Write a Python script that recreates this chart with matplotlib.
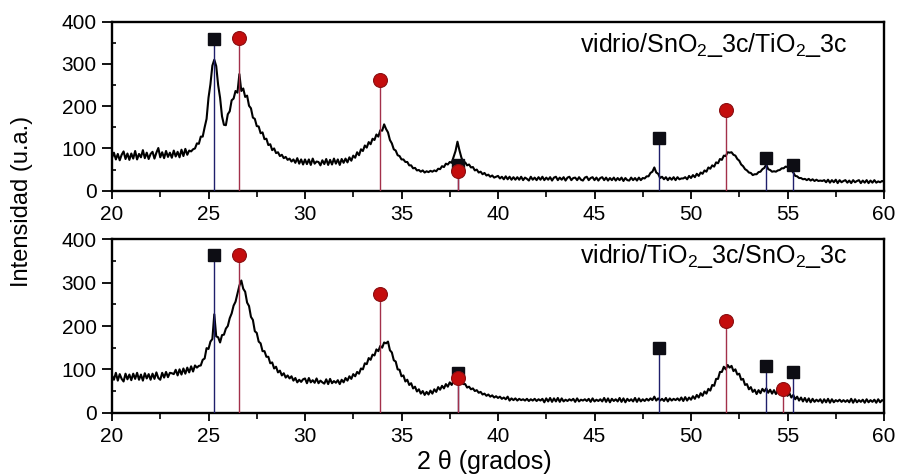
import numpy as np
import matplotlib
matplotlib.use("Agg")
import matplotlib.pyplot as plt
from matplotlib.ticker import MultipleLocator

plt.rcParams['font.family'] = ['Liberation Sans', 'DejaVu Sans']
plt.rcParams['mathtext.fontset'] = 'custom'
plt.rcParams['mathtext.rm'] = 'Liberation Sans'
plt.rcParams['mathtext.it'] = 'Liberation Sans:italic'

# 2-theta scan grid (step 0.1 deg)
two_theta = np.round(np.arange(20.0, 60.05, 0.1), 1)

# vidrio/SnO2_3c/TiO2_3c
intensity_top = [
    78, 90, 74, 87, 72, 85, 93, 75, 88, 73,
    88, 76, 94, 74, 87, 79, 96, 77, 90, 75,
    87, 92, 76, 90, 101, 79, 91, 77, 94, 80,
    90, 78, 95, 81, 92, 79, 97, 82, 99, 85,
    95, 93, 98, 100, 112, 111, 128, 128, 150, 170,
    220, 252, 296, 310, 295, 250, 220, 176, 156, 155,
    181, 188, 214, 218, 236, 232, 276, 236, 242, 222,
    225, 201, 195, 173, 170, 153, 152, 136, 138, 122,
    123, 108, 110, 96, 100, 89, 91, 82, 85, 77,
    80, 73, 76, 69, 74, 66, 77, 64, 74, 62,
    74, 63, 74, 61, 76, 64, 69, 68, 60, 72,
    63, 75, 61, 73, 62, 76, 64, 74, 61, 75,
    66, 76, 67, 79, 71, 83, 78, 91, 84, 98,
    94, 107, 102, 115, 110, 123, 120, 133, 128, 143,
    142, 157, 146, 138, 120, 112, 98, 95, 84, 82,
    74, 74, 68, 68, 60, 60, 53, 54, 48, 49,
    45, 48, 43, 46, 44, 47, 45, 48, 46, 52,
    51, 58, 56, 64, 62, 68, 66, 80, 94, 116,
    96, 79, 66, 67, 60, 62, 55, 56, 48, 50,
    43, 45, 39, 42, 36, 38, 33, 36, 31, 33,
    35, 29, 33, 27, 34, 27, 33, 26, 32, 26,
    32, 26, 33, 25, 31, 28, 24, 33, 26, 31,
    25, 32, 26, 33, 25, 31, 26, 32, 24, 31,
    33, 25, 31, 26, 32, 24, 31, 33, 25, 30,
    31, 25, 32, 26, 24, 31, 33, 25, 30, 32,
    25, 31, 24, 30, 32, 25, 31, 24, 30, 25,
    31, 24, 30, 25, 31, 23, 30, 25, 24, 31,
    25, 30, 24, 31, 25, 30, 29, 34, 34, 42,
    45, 55, 43, 40, 30, 33, 27, 32, 25, 31,
    26, 32, 25, 32, 27, 29, 29, 32, 27, 35,
    30, 37, 32, 40, 35, 43, 40, 48, 45, 55,
    52, 60, 57, 67, 65, 75, 73, 83, 82, 91,
    90, 91, 85, 83, 75, 71, 62, 58, 51, 48,
    43, 42, 37, 39, 39, 44, 45, 51, 54, 62,
    51, 49, 45, 46, 45, 48, 49, 53, 53, 57,
    56, 57, 49, 43, 35, 34, 30, 30, 27, 28,
    25, 28, 24, 27, 23, 26, 23, 24, 23, 25,
    20, 26, 19, 25, 20, 26, 18, 25, 20, 23,
    25, 19, 24, 18, 25, 20, 23, 25, 18, 24,
    19, 25, 18, 24, 19, 25, 19, 22, 20, 23,
    21,
]

# vidrio/TiO2_3c/SnO2_3c
intensity_bottom = [
    86, 76, 92, 74, 89, 78, 72, 90, 77, 88,
    75, 90, 78, 92, 76, 88, 74, 91, 79, 89,
    76, 90, 78, 93, 80, 76, 92, 81, 94, 82,
    92, 91, 89, 99, 86, 100, 88, 102, 90, 104,
    93, 107, 95, 109, 104, 108, 109, 122, 125, 149,
    147, 164, 170, 227, 176, 174, 162, 179, 180, 194,
    200, 218, 229, 247, 256, 274, 293, 305, 286, 279,
    254, 246, 221, 214, 188, 184, 164, 160, 142, 142,
    129, 129, 114, 116, 102, 106, 93, 97, 86, 91,
    81, 86, 79, 84, 74, 80, 70, 76, 71, 77,
    79, 68, 80, 70, 75, 69, 79, 68, 74, 70,
    67, 77, 66, 78, 68, 73, 69, 75, 66, 76,
    70, 80, 74, 84, 78, 89, 84, 94, 90, 102,
    100, 114, 112, 126, 122, 134, 132, 146, 142, 154,
    150, 162, 160, 164, 144, 139, 121, 118, 100, 99,
    84, 86, 72, 76, 64, 68, 56, 60, 49, 54,
    44, 50, 41, 48, 42, 51, 44, 54, 48, 59,
    53, 62, 56, 66, 60, 70, 64, 74, 68, 80,
    77, 76, 66, 66, 58, 60, 54, 56, 50, 52,
    46, 48, 42, 44, 39, 42, 37, 40, 35, 38,
    34, 37, 32, 35, 31, 37, 28, 33, 29, 33,
    28, 32, 29, 31, 28, 32, 27, 31, 28, 32,
    27, 31, 28, 32, 24, 33, 26, 34, 25, 33,
    26, 34, 25, 33, 26, 30, 27, 31, 28, 32,
    25, 33, 26, 30, 28, 31, 27, 32, 25, 33,
    26, 30, 27, 31, 26, 34, 25, 33, 24, 32,
    27, 31, 26, 34, 25, 33, 24, 32, 27, 31,
    26, 34, 25, 33, 26, 31, 27, 32, 28, 33,
    29, 37, 28, 33, 28, 32, 27, 34, 26, 33,
    28, 32, 29, 33, 28, 35, 27, 36, 28, 35,
    30, 38, 32, 41, 35, 45, 39, 49, 44, 55,
    51, 64, 62, 78, 78, 94, 94, 106, 100, 110,
    104, 108, 96, 100, 88, 90, 76, 78, 64, 66,
    54, 59, 48, 53, 43, 52, 45, 55, 49, 56,
    46, 53, 44, 52, 43, 52, 45, 51, 42, 49,
    39, 45, 35, 41, 31, 37, 28, 35, 26, 34,
    25, 33, 24, 32, 25, 30, 26, 31, 23, 31,
    24, 32, 23, 31, 24, 29, 26, 30, 25, 29,
    25, 29, 24, 32, 23, 31, 24, 29, 25, 30,
    23, 31, 24, 29, 25, 30, 23, 31, 24, 29,
    27,
]

# Reference reflections: anatase (squares) and cassiterite (circles)
anatase_pos_top = [25.3, 37.95, 48.35, 53.9, 55.3]
anatase_int_top = [360, 62, 124, 77, 61]
cassiterite_pos_top = [26.6, 33.9, 37.95, 51.8]
cassiterite_int_top = [361, 262, 46, 191]

anatase_pos_bottom = [25.3, 37.95, 48.35, 53.9, 55.3]
anatase_int_bottom = [364, 92, 150, 108, 93]
cassiterite_pos_bottom = [26.6, 33.9, 37.95, 51.8, 54.76]
cassiterite_int_bottom = [364, 274, 79, 212, 54]

labels = [r"vidrio/SnO$_2$_3c/TiO$_2$_3c", r"vidrio/TiO$_2$_3c/SnO$_2$_3c"]
x_ticks = [20, 25, 30, 35, 40, 45, 50, 55, 60]
y_ticks = [0, 100, 200, 300, 400]

W, H = 897, 474
fig = plt.figure(figsize=(W / 100, H / 100), dpi=100)
ax_top = fig.add_axes([112 / W, 1 - 190.7 / H, 772 / W, 169 / H])
ax_bot = fig.add_axes([112 / W, 1 - 412.7 / H, 772 / W, 173.4 / H])

panels = [
    (ax_top, intensity_top, anatase_pos_top, anatase_int_top,
     cassiterite_pos_top, cassiterite_int_top, labels[0], 328),
    (ax_bot, intensity_bottom, anatase_pos_bottom, anatase_int_bottom,
     cassiterite_pos_bottom, cassiterite_int_bottom, labels[1], 345),
]

for ax, inten, a_pos, a_int, c_pos, c_int, lab, lab_y in panels:
    ax.plot(two_theta, inten, color='black', lw=1.5, zorder=2)
    ax.vlines(a_pos, 0, a_int, color='#1f1f6b', lw=1.0, zorder=3)
    ax.vlines(c_pos, 0, c_int, color='#a3304a', lw=1.0, zorder=3)
    ax.plot(a_pos, a_int, ls='none', marker='s', ms=8.5, color='#0d0d14',
            mec='#0d0d14', zorder=4)
    ax.plot(c_pos, c_int, ls='none', marker='o', ms=10, color='#c40d0d',
            mec='#8a0f12', mew=0.8, zorder=5)
    ax.text(58.1, lab_y, lab, ha='right', va='baseline', fontsize=18)

    ax.set_xlim(20, 60)
    ax.set_ylim(0, 400)
    ax.set_xticks(x_ticks)
    ax.set_yticks(y_ticks)
    ax.xaxis.set_minor_locator(MultipleLocator(2.5))
    ax.yaxis.set_minor_locator(MultipleLocator(50))
    ax.tick_params(axis='x', which='major', direction='out', length=6,
                   width=1.3, labelsize=15, pad=4, top=False)
    ax.tick_params(axis='x', which='minor', direction='out', length=4,
                   width=1.2, top=False)
    ax.tick_params(axis='y', which='major', direction='out', length=7,
                   width=1.3, labelsize=15, pad=4, right=False)
    ax.tick_params(axis='y', which='minor', direction='in', length=3,
                   width=1.2, right=False)
    for sp in ax.spines.values():
        sp.set_linewidth(1.7)

fig.text(22 / W, 1 - 201 / H, "Intensidad (u.a.)", rotation=90,
         ha='center', va='center', fontsize=17)
fig.text(484 / W, 1 - 462 / H, "2 θ (grados)", ha='center', va='center',
         fontsize=18)

fig.savefig("out.png", dpi=100)
